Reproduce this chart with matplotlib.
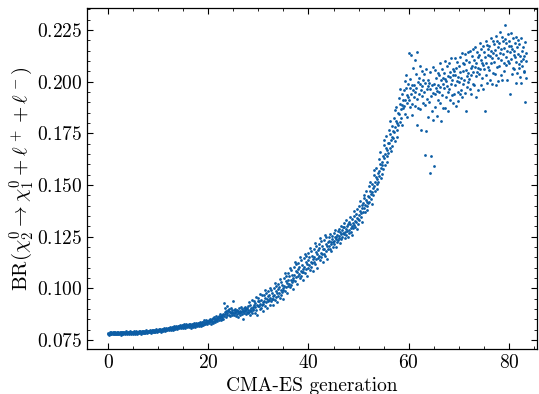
import matplotlib
matplotlib.use("Agg")
import matplotlib.pyplot as plt
from matplotlib.ticker import MultipleLocator

# Branching ratio values per CMA-ES generation, in units of 1e-4
br_by_generation = [
    [779, 785, 781, 776, 788, 783, 780, 786, 778, 784, 782, 787],
    [784, 778, 786, 781, 777, 789, 783, 780, 785, 779, 788, 782],
    [781, 787, 779, 785, 790, 783, 776, 784, 788, 780, 786, 782],
    [786, 780, 789, 783, 778, 785, 791, 782, 787, 779, 784, 788],
    [783, 789, 780, 786, 792, 784, 779, 787, 782, 790, 785, 781],
    [788, 782, 791, 785, 780, 787, 793, 784, 789, 781, 786, 790],
    [785, 791, 782, 788, 794, 786, 780, 789, 784, 792, 787, 783],
    [791, 785, 794, 788, 783, 790, 796, 787, 792, 784, 789, 793],
    [788, 795, 786, 792, 798, 790, 784, 793, 789, 796, 791, 787],
    [796, 790, 799, 793, 787, 795, 801, 792, 797, 789, 794, 798],
    [794, 801, 791, 798, 805, 796, 789, 799, 795, 802, 797, 792],
    [803, 797, 807, 800, 794, 802, 809, 799, 805, 796, 801, 806],
    [802, 809, 798, 806, 813, 804, 797, 808, 803, 811, 805, 800],
    [812, 805, 816, 809, 802, 811, 818, 807, 814, 804, 810, 815],
    [812, 819, 808, 816, 823, 814, 806, 818, 811, 821, 815, 809],
    [820, 813, 825, 817, 810, 819, 827, 815, 822, 812, 818, 824],
    [817, 825, 812, 821, 829, 819, 810, 823, 816, 827, 820, 814],
    [826, 818, 831, 822, 814, 824, 833, 820, 828, 816, 823, 830],
    [824, 833, 819, 829, 838, 826, 816, 831, 822, 836, 828, 821],
    [838, 829, 844, 834, 825, 836, 847, 832, 841, 827, 835, 843],
    [838, 848, 832, 843, 853, 840, 829, 846, 836, 851, 842, 834],
    [854, 843, 861, 849, 838, 852, 865, 847, 858, 841, 850, 860],
    [855, 867, 848, 862, 874, 858, 845, 865, 852, 871, 860, 850],
    [875, 930, 868, 884, 905, 877, 862, 890, 915, 872, 882, 895],
    [888, 872, 899, 883, 866, 887, 902, 879, 893, 870, 885, 940],
    [880, 893, 870, 887, 900, 882, 866, 890, 876, 897, 884, 862],
    [892, 878, 905, 886, 871, 890, 908, 883, 898, 874, 888, 850],
    [888, 902, 878, 895, 910, 891, 874, 899, 884, 906, 893, 881],
    [912, 884, 935, 897, 871, 920, 903, 889, 945, 878, 908, 894],
    [898, 940, 921, 880, 930, 909, 958, 893, 917, 872, 936, 912],
    [952, 915, 938, 898, 970, 926, 905, 944, 919, 965, 890, 933],
    [922, 968, 940, 991, 915, 955, 932, 978, 905, 948, 963, 937],
    [985, 942, 968, 920, 1002, 955, 937, 990, 948, 975, 918, 962],
    [950, 1003, 968, 1025, 942, 988, 960, 1012, 935, 979, 998, 964],
    [1022, 975, 1008, 955, 1046, 990, 968, 1030, 982, 1015, 950, 1000],
    [990, 1050, 1012, 1072, 985, 1035, 1005, 1060, 975, 1026, 1042, 1010],
    [1075, 1022, 1058, 1005, 1100, 1040, 1015, 1088, 1032, 1065, 995, 1050],
    [1040, 1102, 1062, 1125, 1035, 1085, 1055, 1115, 1020, 1078, 1094, 1060],
    [1122, 1068, 1105, 1048, 1150, 1085, 1060, 1135, 1078, 1112, 1040, 1095],
    [1080, 1145, 1102, 1168, 1072, 1125, 1095, 1158, 1060, 1118, 1138, 1100],
    [1170, 1112, 1150, 1090, 1195, 1128, 1105, 1182, 1120, 1158, 1082, 1140],
    [1125, 1192, 1150, 1218, 1118, 1175, 1142, 1205, 1100, 1166, 1185, 1148],
    [1215, 1158, 1196, 1135, 1242, 1172, 1150, 1228, 1165, 1202, 1125, 1188],
    [1165, 1234, 1192, 1260, 1158, 1215, 1182, 1248, 1140, 1206, 1225, 1190],
    [1205, 1248, 1231, 1190, 1262, 1214, 1226, 1181, 1240, 1253, 1199, 1222],
    [1268, 1229, 1212, 1250, 1283, 1237, 1201, 1246, 1259, 1224, 1276, 1233],
    [1241, 1288, 1255, 1219, 1272, 1303, 1262, 1236, 1281, 1248, 1295, 1266],
    [1297, 1262, 1316, 1274, 1241, 1288, 1330, 1259, 1302, 1278, 1249, 1312],
    [1322, 1284, 1265, 1309, 1345, 1293, 1271, 1336, 1301, 1258, 1318, 1290],
    [1348, 1307, 1372, 1326, 1295, 1361, 1319, 1285, 1340, 1383, 1312, 1335],
    [1352, 1398, 1331, 1376, 1420, 1362, 1345, 1405, 1322, 1386, 1368, 1414],
    [1436, 1389, 1452, 1401, 1367, 1427, 1470, 1398, 1416, 1378, 1445, 1412],
    [1442, 1493, 1418, 1471, 1512, 1455, 1430, 1502, 1466, 1408, 1484, 1450],
    [1548, 1497, 1571, 1512, 1470, 1536, 1583, 1505, 1528, 1479, 1559, 1516],
    [1566, 1624, 1545, 1603, 1658, 1580, 1532, 1612, 1595, 1551, 1641, 1575],
    [1695, 1632, 1718, 1650, 1598, 1679, 1736, 1641, 1668, 1611, 1704, 1655],
    [1702, 1768, 1681, 1745, 1810, 1719, 1663, 1784, 1733, 1690, 1762, 1726],
    [1826, 1755, 1862, 1780, 1712, 1808, 1875, 1768, 1801, 1734, 1848, 1792],
    [1842, 1919, 1806, 1892, 1965, 1868, 1825, 1938, 1885, 1790, 1910, 1873],
    [1958, 1882, 2005, 1911, 1844, 1970, 2030, 1897, 1935, 1830, 1986, 1924],
    [1912, 2140, 1968, 1875, 2012, 1940, 2128, 1893, 1985, 1838, 1957, 2065],
    [1985, 1925, 2102, 1880, 1948, 2036, 1967, 1790, 1918, 2145, 1996, 1873],
    [1942, 2018, 1866, 1990, 2075, 1958, 1765, 1932, 2050, 1977, 1895, 2008],
    [2035, 1950, 1645, 1992, 1885, 2062, 1760, 1965, 1918, 2010, 1830, 1978],
    [1903, 1995, 1560, 1962, 2048, 1640, 1928, 1985, 1860, 2070, 1945, 1815],
    [1990, 1590, 1942, 2058, 1878, 1970, 2015, 1835, 1956, 1912, 2040, 1983],
    [1948, 2034, 1896, 2090, 1972, 1810, 2006, 1935, 2062, 1988, 1870, 2019],
    [2040, 1968, 1872, 2012, 2098, 1925, 2003, 1980, 2075, 1858, 2025, 1950],
    [1962, 2088, 2020, 1910, 2045, 1988, 2115, 1935, 2008, 2062, 1895, 2030],
    [2052, 1940, 2030, 2112, 1985, 1882, 2068, 2005, 2095, 1950, 2022, 1905],
    [1998, 2075, 1942, 2118, 2046, 1960, 2015, 2140, 1925, 2052, 2088, 1990],
    [2085, 2010, 2132, 1945, 2056, 1860, 2102, 2028, 1972, 2145, 2040, 1998],
    [2012, 2096, 2150, 1965, 2068, 2030, 1940, 2122, 2075, 1990, 2160, 2048],
    [2105, 1985, 2072, 2165, 2028, 1925, 2090, 2142, 2048, 1960, 2118, 2066],
    [2038, 2130, 2188, 2062, 1985, 2102, 2158, 2015, 2090, 2172, 1962, 2080],
    [2145, 2060, 1860, 2118, 2195, 2030, 2092, 2176, 1995, 2128, 2070, 2160],
    [2058, 2172, 2125, 2010, 2210, 2088, 2150, 1990, 2112, 2198, 2040, 2136],
    [2180, 2095, 2035, 2152, 2220, 1985, 2128, 2070, 2196, 2112, 2005, 2166],
    [2075, 2188, 2140, 2240, 2030, 2158, 2102, 2215, 2008, 2132, 2196, 2090],
    [2162, 2050, 2206, 2275, 2118, 2080, 2185, 2010, 2146, 2230, 2100, 2170],
    [2090, 2198, 2145, 1940, 2235, 2110, 2172, 2035, 2158, 2212, 2065, 2128],
    [2150, 2062, 2188, 2120, 1995, 2218, 2095, 2168, 2040, 2135, 2202, 2085],
    [2066, 2180, 2122, 2020, 2212, 2098, 1995, 2148, 2075, 2165, 2108, 2050],
    [2125, 2045, 2190, 1900, 2098, 2140, 2018],
]
population_size = 12

x_label = "CMA-ES generation"
y_label = r"$\mathrm{BR}(\chi_2^0 \rightarrow \chi_1^0 + \ell^+ + \ell^-)$"

plt.rcParams.update({
    "font.family": "serif",
    "font.serif": ["cmr10", "DejaVu Serif"],
    "mathtext.fontset": "cm",
    "axes.formatter.use_mathtext": True,
    "axes.unicode_minus": False,
    "xtick.direction": "in",
    "ytick.direction": "in",
    "xtick.top": True,
    "ytick.right": True,
    "xtick.minor.visible": True,
    "ytick.minor.visible": True,
})

xs, ys = [], []
for g, vals in enumerate(br_by_generation):
    for j, v in enumerate(vals):
        xs.append(g + j / population_size)
        ys.append(v * 1e-4)

fig = plt.figure(figsize=(5.39, 3.94), dpi=100)
ax = fig.add_axes([87 / 539, 45 / 394, 450 / 539, 341 / 394])
ax.scatter(xs, ys, s=4, color="#0C5DA5", linewidths=0, marker="o")

ax.set_xlim(-4.2, 85.6)
ax.set_ylim(0.0706, 0.2356)
ax.xaxis.set_major_locator(MultipleLocator(20))
ax.xaxis.set_minor_locator(MultipleLocator(5))
ax.yaxis.set_major_locator(MultipleLocator(0.025))
ax.yaxis.set_minor_locator(MultipleLocator(0.005))
ax.tick_params(which="major", length=4, width=0.8, labelsize=14)
ax.tick_params(which="minor", length=2, width=0.6)
for sp in ax.spines.values():
    sp.set_linewidth(0.9)

ax.set_xlabel(x_label, fontsize=14, labelpad=4)
ax.set_ylabel(y_label, fontsize=15, labelpad=0.5)

fig.savefig("out.png", dpi=100)
